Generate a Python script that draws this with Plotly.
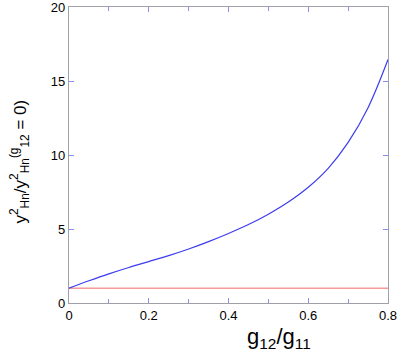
import plotly.graph_objects as go

ratio_x = [0, 0.05, 0.1, 0.15, 0.2, 0.25, 0.3, 0.35, 0.4, 0.45, 0.5, 0.55, 0.6, 0.65, 0.7, 0.75, 0.8]
ratio_y = [1.0, 1.5, 1.97, 2.4, 2.8, 3.2, 3.65, 4.15, 4.7, 5.3, 6.0, 6.82, 7.82, 9.1, 10.85, 13.2, 16.45]
ref_x = [0, 0.8]
ref_y = [1, 1]
x_ticks = [0, 0.2, 0.4, 0.6, 0.8]
x_labels = ["0", "0.2", "0.4", "0.6", "0.8"]
y_ticks = [0, 5, 10, 15, 20]
x_title = "g<sub>12</sub>/g<sub>11</sub>"
y_title = "y<sup>2</sup><sub>Hn</sub>/y<sup>2</sup><sub>Hn</sub><sup>(g</sup><sub>12</sub> = 0)"

fig = go.Figure()
fig.add_trace(go.Scatter(x=ref_x, y=ref_y, mode="lines",
                         line=dict(color="#f49a9a", width=1.5), showlegend=False))
fig.add_trace(go.Scatter(x=ratio_x, y=ratio_y, mode="lines", line_shape="spline",
                         line=dict(color="#3c3cf0", width=1.2), showlegend=False))

font = "Liberation Sans, Arial, Helvetica, sans-serif"
axcommon = dict(showline=True, linecolor="#a0a0a8", linewidth=1.2, mirror="allticks",
                ticks="inside", ticklen=5, tickcolor="#8c8cf0", tickwidth=1,
                showgrid=False, zeroline=False, automargin=False,
                ticklabeloverflow="allow",
                tickfont=dict(family=font, size=13, color="black"))

fig.update_layout(
    width=397, height=355,
    margin=dict(l=69, r=9, t=7, b=52, autoexpand=False),
    paper_bgcolor="white", plot_bgcolor="white",
    xaxis=dict(range=[0, 0.8], tickvals=x_ticks, ticktext=x_labels,
               minor=dict(dtick=0.1, ticks="inside", ticklen=4, tickcolor="#8c8cf0"),
               **axcommon),
    yaxis=dict(range=[0, 20], tickvals=y_ticks, **axcommon),
    annotations=[
        dict(text=x_title, xref="paper", yref="paper", x=0.658, y=-0.172,
             xanchor="center", yanchor="bottom", showarrow=False,
             font=dict(family=font, size=22, color="black")),
        dict(text=y_title, xref="paper", yref="paper", x=-0.1536, y=0.478,
             xanchor="center", yanchor="middle", showarrow=False, textangle=-90,
             font=dict(family=font, size=17, color="black")),
    ],
)

fig.write_html("out.html", config={"displayModeBar": False},
               post_script="document.body.style.margin='0';document.body.style.padding='0';")
